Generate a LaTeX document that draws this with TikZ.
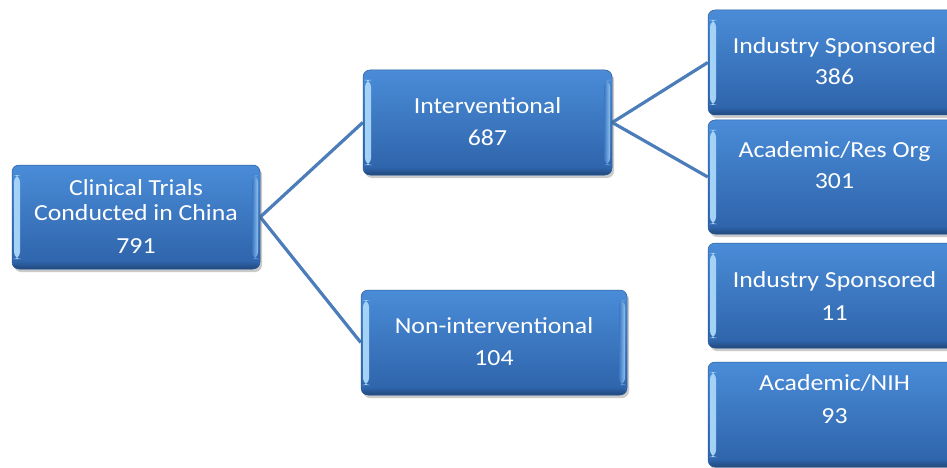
\documentclass[tikz,border=0pt]{standalone}
\usepackage{fontspec}
\setmainfont{Carlito}[FakeStretch=1.12]
\usetikzlibrary{shadows,backgrounds,calc}
\definecolor{boxtop}{HTML}{4A8CD8}
\definecolor{boxbot}{HTML}{2D62A8}
\definecolor{boxmid}{HTML}{3B78C4}
\definecolor{hl}{HTML}{A6D4F7}
\definecolor{boxedge}{HTML}{2A5A98}
\definecolor{conncol}{HTML}{4A7DBA}
\tikzset{
 box/.style={draw=boxedge, line width=0.5pt, rounded corners=7pt, top color=boxtop, bottom color=boxbot,
   drop shadow={shadow xshift=2pt, shadow yshift=-3pt, opacity=0.35, fill=black!60}, inner sep=0pt,
   path picture={
     \shade[left color=hl, right color=boxmid] ([xshift=2pt,yshift=-10pt]path picture bounding box.north west) rectangle ([xshift=8pt,yshift=10pt]path picture bounding box.south west);
     \shade[left color=boxmid, right color=hl!80!boxmid] ([xshift=-8pt,yshift=-10pt]path picture bounding box.north east) rectangle ([xshift=-2pt,yshift=10pt]path picture bounding box.south east);
     \shade[top color=boxbot, bottom color=boxedge!80!black] ([yshift=7pt]path picture bounding box.south west) rectangle (path picture bounding box.south east);
   }},
 txt/.style={text=white, font=\fontsize{23}{25}\selectfont, align=center, anchor=base, inner sep=0pt},
 conn/.style={draw=conncol, line width=3.2pt}
}
\begin{document}
\begin{tikzpicture}[x=1pt,y=1pt]
\useasboundingbox (0,0) rectangle (947,-468);
\node[box, minimum width=248pt, minimum height=104pt] (root) at (136,-217) {};
\node[box, minimum width=249pt, minimum height=105pt] (intv) at (487.5,-122.5) {};
\node[box, minimum width=266pt, minimum height=105pt] (nonint) at (494,-342.5) {};
\node[box, minimum width=253pt, minimum height=105pt] (r1) at (834.5,-62.5) {};
\node[box, minimum width=253pt, minimum height=114pt] (r2) at (834.5,-177) {};
\node[box, minimum width=253pt, minimum height=105pt] (r3) at (834.5,-295.5) {};
\node[box, minimum width=253pt, minimum height=105pt] (r4) at (834.5,-414.5) {};
\node[txt] (roott) at (136,-253) {Clinical Trials\\Conducted in China\\[8pt]791};
\node[txt] (intvt) at (487.5,-145) {Interventional\\[7pt]687};
\node[txt] (noninttt) at (494,-365) {Non-interventional\\[7pt]104};
\node[txt] (r1t) at (834.5,-85) {Industry Sponsored\\[7pt]386};
\node[txt] (r2t) at (834.5,-188) {Academic/Res Org\\[6pt]301};
\node[txt] (r3t) at (834.5,-320) {Industry Sponsored\\[8pt]11};
\node[txt] (r4t) at (834.5,-423) {Academic/NIH\\[8pt]93};
\begin{scope}[on background layer]
\draw[conn] (root.east) -- (intv.west);
\draw[conn] (root.east) -- (nonint.west);
\draw[conn] (intv.east) -- (r1.west);
\draw[conn] (intv.east) -- (r2.west);
\end{scope}
\end{tikzpicture}
\end{document}
